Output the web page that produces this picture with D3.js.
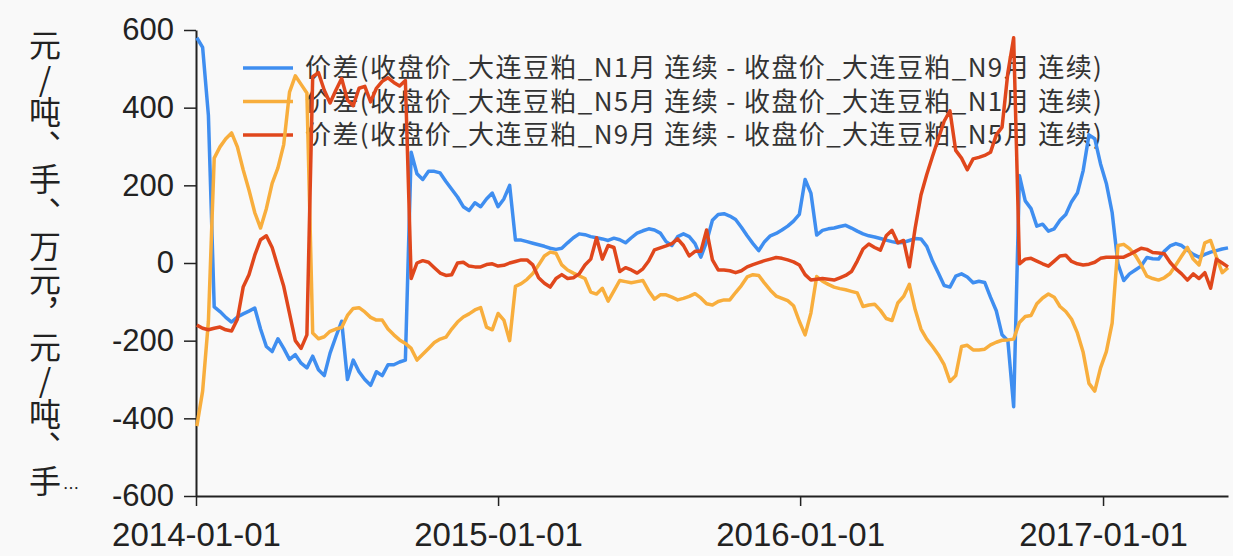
<!DOCTYPE html>
<html>
<head>
<meta charset="utf-8">
<script src="https://cdn.jsdelivr.net/npm/d3@7"></script>
<style>
  html, body { margin: 0; padding: 0; background: #f9f9f9; }
  svg { display: block; }
</style>
</head>
<body>
<div id="chart"></div>
<script>
// weekly points, 2014-01-02 .. 2017-06-01
const dates = d3.timeDay.range(new Date(2014, 0, 2), new Date(2017, 5, 2), 7)

const seriesNames = [
  '价差(收盘价_大连豆粕_N1月 连续 - 收盘价_大连豆粕_N9月 连续)',
  '价差(收盘价_大连豆粕_N5月 连续 - 收盘价_大连豆粕_N1月 连续)',
  '价差(收盘价_大连豆粕_N9月 连续 - 收盘价_大连豆粕_N5月 连续)'
]

const n1n9 = [
  580, 555, 380, -113, -125, -140, -152, -139, -131, -124,
  -116, -170, -215, -228, -195, -220, -248, -236, -258, -270,
  -240, -275, -290, -232, -190, -150, -300, -250, -280, -300,
  -315, -280, -290, -262, -262, -255, -250, 285, 230, 215,
  236, 236, 232, 210, 190, 170, 145, 135, 155, 145,
  165, 180, 145, 165, 200, 59, 59, 55, 51, 47,
  43, 38, 35, 38, 52, 65, 75, 73, 68, 65,
  62, 58, 64, 60, 52, 65, 77, 83, 88, 85,
  77, 55, 45, 68, 75, 68, 50, 15, 55, 110,
  125, 127, 121, 112, 92, 70, 50, 32, 55, 70,
  76, 85, 95, 108, 125, 215, 180, 72, 84, 88,
  90, 94, 97, 90, 82, 75, 70, 67, 63, 59,
  55, 52, 53, 58, 63, 62, 43, 5, -26, -58,
  -62, -34, -28, -36, -51, -47, -50, -88, -123, -185,
  -200, -370, 225, 160, 140, 95, 100, 82, 88, 110,
  125, 158, 180, 238, 330, 320, 255, 205, 130, -2,
  -45, -28, -18, -8, 14, 11, 10, 30, 44, 50,
  45, 33, 22, 15, 22, 28, 32, 36, 39
]

const n5n1 = [
  -420, -330, -150, 270, 299, 320, 335, 299, 240, 188,
  130, 90, 140, 205, 245, 305, 440, 482, 460, 438,
  -180, -195, -190, -176, -170, -166, -135, -117, -115, -126,
  -140, -147, -147, -170, -185, -198, -207, -220, -250, -235,
  -220, -205, -196, -191, -170, -152, -139, -131, -121, -115,
  -165, -172, -130, -147, -200, -60, -53, -42, -27, -5,
  18, 28, 25, -5, -18, -26, -33, -40, -75, -80,
  -65, -98, -72, -45, -48, -51, -48, -45, -72, -93,
  -82, -82, -88, -95, -91, -86, -79, -90, -105, -108,
  -99, -95, -95, -76, -58, -36, -30, -32, -52, -70,
  -85, -91, -97, -110, -150, -185, -129, -35, -47, -55,
  -62, -66, -69, -73, -77, -112, -108, -106, -122, -143,
  -148, -103, -86, -55, -120, -170, -196, -215, -236, -262,
  -305, -290, -215, -212, -224, -224, -222, -211, -204, -199,
  -198, -196, -153, -138, -135, -105, -90, -80, -88, -112,
  -125, -145, -180, -230, -310, -330, -270, -228, -155, 45,
  48, 37, 20, -5, -34, -40, -44, -38, -27, -5,
  18, 40, 10, -5, 52, 58, 15, -25, -12
]

const n9n5 = [
  -160, -168, -172, -168, -165, -172, -175, -145, -62, -30,
  20, 60, 70, 40, -10, -60, -130, -200, -220, -185,
  480, 490, 445, 412, 445, 475, 420, 405, 450, 455,
  415, 450, 468, 477, 465, 456, 470, -40, 0, 6,
  2, -12, -26, -32, -30, 0, 2, -8, -10, -10,
  -4, -2, -8, -6, 0, 4, 8, 8, -5, -38,
  -52, -62, -40, -30, -40, -38, -28, -5, 10, 65,
  10, 45, 40, -22, -12, -18, -26, -15, 5, 34,
  39, 44, 50, 62, 45, 18, 30, 30, 85, 8,
  -18, -18, -20, -25, -20, -10, -4, 1, 6, 10,
  14, 12, 8, 3, -5, -30, -44, -42, -40, -42,
  -44, -38, -32, -22, 5, 36, 49, 40, 33, 70,
  84, 52, 58, -10, 90, 175, 228, 275, 320, 365,
  392, 290, 270, 240, 268, 272, 277, 285, 330, 350,
  490, 580, -2, 10, 12, 5, -2, -8, 5, 18,
  20, 4, -2, -5, -3, 2, 12, 15, 15, 15,
  15, 22, 30, 38, 35, 27, 26, 24, 2, -15,
  -28, -44, -28, -40, -25, -65, 10, 0, -10
]

const yTicks = [-600, -400, -200, 0, 200, 400, 600]
const xTicks = [new Date(2014, 0, 1), new Date(2015, 0, 1), new Date(2016, 0, 1), new Date(2017, 0, 1)]
const yTitle = '元/吨、手、万元，元/吨、手'

const colors = ['#3f8ef0', '#f8ae3d', '#e0471c']

const width = 1233, height = 556
const margin = { top: 30, right: 5, bottom: 60, left: 196 }

const svg = d3.select('#chart').append('svg')
  .attr('width', width).attr('height', height)

svg.append('rect').attr('width', width).attr('height', height).attr('fill', '#f9f9f9')

const x = d3.scaleTime()
  .domain([new Date(2014, 0, 1), new Date(2017, 5, 1)])
  .range([margin.left, width - margin.right])

const y = d3.scaleLinear()
  .domain([-600, 600])
  .range([height - margin.bottom, margin.top])

// y轴
const yAxis = svg.append('g')
  .attr('transform', `translate(${margin.left},0)`)
  .call(d3.axisLeft(y).tickValues(yTicks).tickFormat(d => String(d))
    .tickSize(12).tickPadding(10).tickSizeOuter(0))
yAxis.select('.domain').attr('stroke', '#222').attr('stroke-width', 2)
yAxis.selectAll('.tick line').attr('stroke', '#222').attr('stroke-width', 1.5)
yAxis.selectAll('.tick text')
  .attr('font-family', '"Liberation Sans", Arial, sans-serif')
  .attr('font-size', 31).attr('fill', '#222')

// x轴
const xAxis = svg.append('g')
  .attr('transform', `translate(0,${y(-600)})`)
  .call(d3.axisBottom(x).tickValues(xTicks).tickFormat(d3.timeFormat('%Y-%m-%d'))
    .tickSize(10).tickPadding(17).tickSizeOuter(0))
xAxis.select('.domain').attr('stroke', '#222').attr('stroke-width', 2)
xAxis.selectAll('.tick line').attr('stroke', '#222').attr('stroke-width', 1.5)
xAxis.selectAll('.tick text')
  .attr('font-family', '"Liberation Sans", Arial, sans-serif')
  .attr('font-size', 33).attr('fill', '#222')

// y轴标题，竖排
svg.append('text')
  .attr('x', 45).attr('y', 29)
  .style('writing-mode', 'vertical-rl')
  .style('text-orientation', 'upright')
  .attr('font-family', '"Noto Sans CJK SC", sans-serif')
  .attr('font-size', 32)
  .attr('letter-spacing', 1.5)
  .attr('fill', '#222')
  .text(yTitle)
svg.append('text')
  .attr('x', 63).attr('y', 494)
  .attr('font-family', '"Noto Sans CJK SC", sans-serif')
  .attr('font-size', 16).attr('fill', '#222')
  .text('…')

// 图例
const legend = svg.append('g').attr('transform', 'translate(243,68)')
seriesNames.forEach((name, i) => {
  const row = legend.append('g').attr('transform', `translate(0,${i * 33.5})`)
  row.append('line').attr('x1', 0).attr('x2', 50).attr('y1', 0).attr('y2', 0)
    .attr('stroke', colors[i]).attr('stroke-width', 3.5)
  row.append('text').attr('x', 62).attr('y', 0).attr('dy', '0.35em')
    .attr('font-family', '"Noto Sans CJK SC", sans-serif')
    .attr('font-size', 26).attr('letter-spacing', 1.4).attr('fill', '#333')
    .text(name)
})

// 折线
const line = d3.line()
  .x((d, i) => x(dates[i]))
  .y(d => y(d))

;[n1n9, n5n1, n9n5].forEach((values, i) => {
  svg.append('path')
    .datum(values)
    .attr('fill', 'none')
    .attr('stroke', colors[i])
    .attr('stroke-width', 3.5)
    .attr('stroke-linejoin', 'round')
    .attr('d', line)
})
</script>
</body>
</html>
